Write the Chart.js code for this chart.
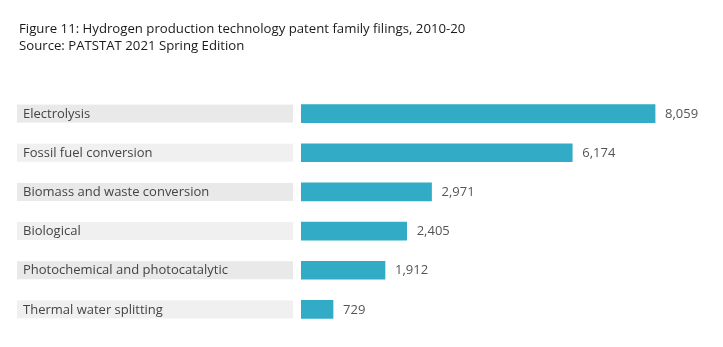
<!DOCTYPE html>
<html>
<head>
<meta charset="utf-8">
<script src="https://cdn.jsdelivr.net/npm/chart.js@4/dist/chart.umd.min.js"></script>
<style>
  html, body { margin: 0; padding: 0; background: #fff; }
  #wrap { position: relative; width: 723px; height: 347px; }
  #title { position: absolute; left: 19px; top: 20px; font-family: "Open Sans", sans-serif;
           font-size: 13.2px; line-height: 17px; color: #1a1a1a; }
  canvas { position: absolute; left: 0; top: 0; }
</style>
</head>
<body>
<div id="wrap">
  <canvas id="c" width="723" height="347"></canvas>
  <div id="title">Figure 11: Hydrogen production technology patent family filings, 2010-20<br>Source: PATSTAT 2021 Spring Edition</div>
</div>
<script>
const categories = [
  "Electrolysis",
  "Fossil fuel conversion",
  "Biomass and waste conversion",
  "Biological",
  "Photochemical and photocatalytic",
  "Thermal water splitting"
];
const filings = [8059, 6174, 2971, 2405, 1912, 729];

const FONT = '"Open Sans", sans-serif';

// Grey label boxes to the left of the bars, plus value labels after each bar
const rowLabels = {
  id: 'rowLabels',
  afterDatasetsDraw(chart) {
    const ctx = chart.ctx;
    const ys = chart.scales.y;
    const xs = chart.scales.x;
    ctx.save();
    ctx.textBaseline = 'middle';
    ctx.textAlign = 'left';
    categories.forEach((name, i) => {
      const y = ys.getPixelForValue(i);
      ctx.fillStyle = i % 2 === 0 ? '#e9e9e9' : '#f0f0f0';
      ctx.fillRect(17, y - 9, 276, 18);
      ctx.font = '13px ' + FONT;
      ctx.fillStyle = '#444';
      ctx.fillText(name, 23, y + 0.5);
      const xe = xs.getPixelForValue(filings[i]);
      ctx.font = '13px ' + FONT;
      ctx.fillStyle = '#555';
      ctx.fillText(filings[i].toLocaleString('en-US'), xe + 10, y + 0.5);
    });
    ctx.restore();
  }
};

new Chart(document.getElementById('c'), {
  type: 'bar',
  data: {
    labels: categories,
    datasets: [{
      data: filings,
      backgroundColor: '#31abc6',
      barThickness: 18
    }]
  },
  options: {
    indexAxis: 'y',
    responsive: false,
    animation: false,
    layout: { padding: { left: 301, right: 26.6, top: 94, bottom: 18 } },
    scales: {
      x: { display: false, min: 0, max: 9000 },
      y: { display: false }
    },
    plugins: { legend: { display: false }, tooltip: { enabled: false } }
  },
  plugins: [rowLabels]
});
</script>
</body>
</html>
